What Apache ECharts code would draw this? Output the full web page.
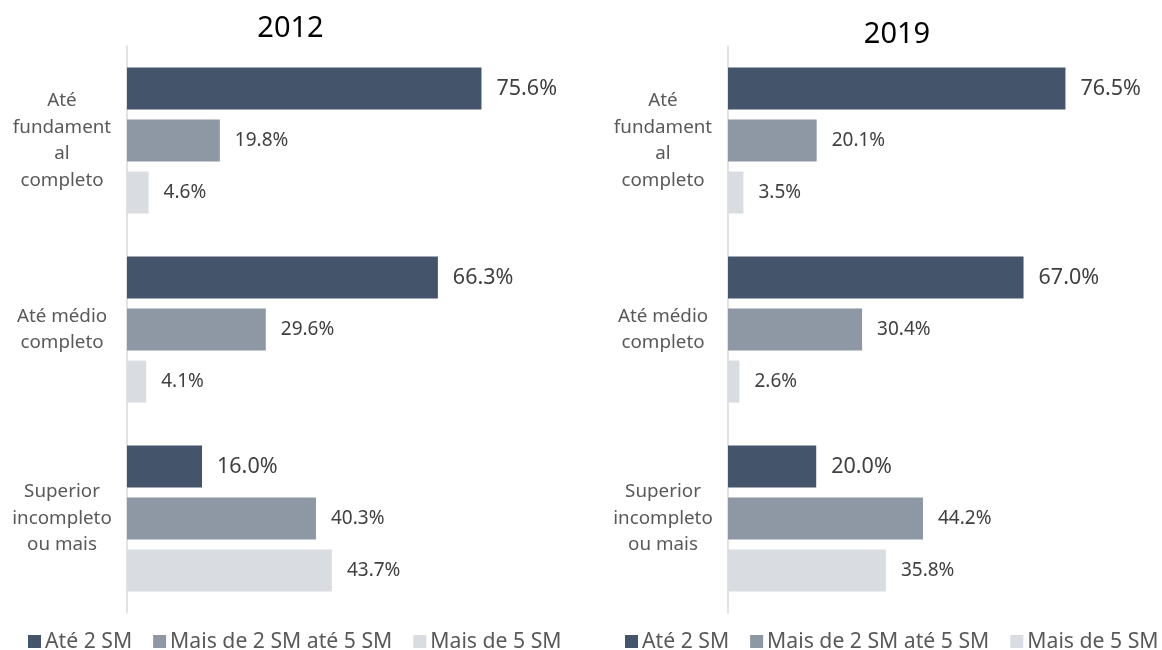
<!DOCTYPE html>
<html>
<head>
<meta charset="utf-8">
<script src="https://cdn.jsdelivr.net/npm/echarts@6/dist/echarts.min.js"></script>
<style>
html,body{margin:0;padding:0;background:#fff;}
#chart{width:1162px;height:650px;}
</style>
</head>
<body>
<div id="chart"></div>
<script>
var categories = ['Até\nfundament\nal\ncompleto', 'Até médio\ncompleto', 'Superior\nincompleto\nou mais'];
var seriesNames = ['Até 2 SM', 'Mais de 2 SM até 5 SM', 'Mais de 5 SM'];
var titles = ['2012', '2019'];
var ate2_2012 = [75.6, 66.3, 16.0];
var de2a5_2012 = [19.8, 29.6, 40.3];
var mais5_2012 = [4.6, 4.1, 43.7];
var ate2_2019 = [76.5, 67.0, 20.0];
var de2a5_2019 = [20.1, 30.4, 44.2];
var mais5_2019 = [3.5, 2.6, 35.8];

var colors = ['#44546A', '#8E98A4', '#D9DCE1'];
var FONT = 'Noto Sans';

function mkSeries(name, data, idx, color, fs) {
  return {
    name: name, type: 'bar', data: data,
    xAxisIndex: idx, yAxisIndex: idx,
    barWidth: 42, barGap: '24%',
    itemStyle: { color: color },
    label: {
      show: true, position: 'right', distance: 15,
      fontFamily: FONT, fontSize: fs, color: '#404040',
      formatter: function (p) { return p.value.toFixed(1) + '%'; }
    },
    emphasis: { disabled: true },
    animation: false
  };
}

function yAx(idx) {
  return {
    type: 'category', gridIndex: idx, data: categories, inverse: true,
    axisLine: { lineStyle: { color: '#D9D9D9', width: 1.5 } },
    axisTick: { show: false },
    axisLabel: {
      margin: 65, align: 'center', fontFamily: FONT, fontSize: 18.8,
      lineHeight: 26.5, color: '#595959'
    }
  };
}
function xAx(idx) {
  return { type: 'value', gridIndex: idx, min: 0, max: 90, show: false, splitLine: { show: false } };
}
function legend(left, gap) {
  return {
    left: left, top: 631, width: 700, padding: 0, itemWidth: 13, itemHeight: 13, itemGap: gap,
    icon: 'rect', data: seriesNames,
    textStyle: { fontFamily: FONT, fontSize: 21.2, color: '#595959', padding: [0, 0, 0, -1] }
  };
}

var chart = echarts.init(document.getElementById('chart'));
chart.setOption({
  backgroundColor: '#fff',
  color: colors,
  title: [
    { text: titles[0], left: 285.5, top: 9, textAlign: 'center',
      textStyle: { fontFamily: FONT, fontSize: 29, fontWeight: 'normal', color: '#000' } },
    { text: titles[1], left: 892, top: 15, textAlign: 'center',
      textStyle: { fontFamily: FONT, fontSize: 29, fontWeight: 'normal', color: '#000' } }
  ],
  legend: [legend(28, 21), legend(625, 21)],
  grid: [
    { left: 127, top: 46, width: 422, height: 567 },
    { left: 728, top: 46, width: 397, height: 567 }
  ],
  xAxis: [xAx(0), xAx(1)],
  yAxis: [yAx(0), yAx(1)],
  series: [
    mkSeries(seriesNames[0], ate2_2012, 0, colors[0], 21.5),
    mkSeries(seriesNames[1], de2a5_2012, 0, colors[1], 19),
    mkSeries(seriesNames[2], mais5_2012, 0, colors[2], 19),
    mkSeries(seriesNames[0], ate2_2019, 1, colors[0], 21.5),
    mkSeries(seriesNames[1], de2a5_2019, 1, colors[1], 19),
    mkSeries(seriesNames[2], mais5_2019, 1, colors[2], 19)
  ]
});
</script>
</body>
</html>
